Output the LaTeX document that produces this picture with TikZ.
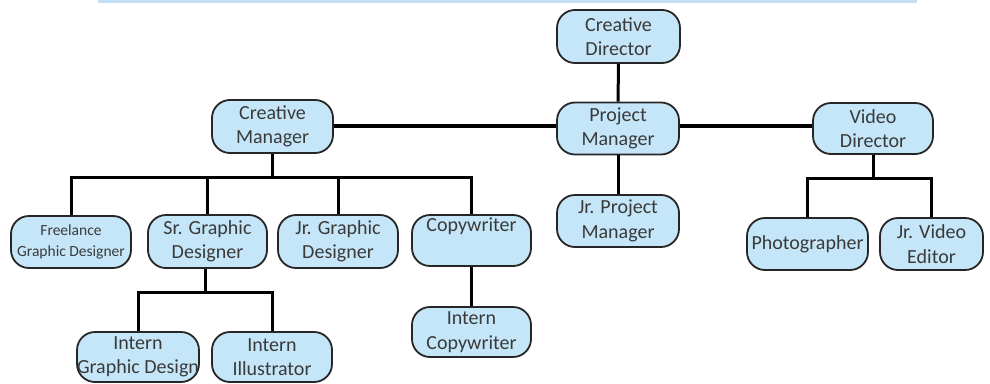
\documentclass[tikz,border=0pt]{standalone}
\usepackage{fontspec}
\setmainfont{Carlito}
\definecolor{boxfill}{HTML}{C5E6F8}
\definecolor{boxtext}{HTML}{3A3A3A}
\definecolor{topline}{HTML}{C2DFF5}
\begin{document}
\begin{tikzpicture}[x=1pt,y=-1pt,
  role/.style={draw=black!85, line width=1.8pt, fill=boxfill, rounded corners=18pt,
    text=boxtext, align=center, inner sep=0pt,
    font=\fontsize{20}{24.5}\selectfont},
  link/.style={line width=3pt, black},
  mainlink/.style={line width=4pt, black}]
\useasboundingbox (0,0) rectangle (990,383);
\fill[topline] (98,0) rectangle (917,2.5);
% nodes
\node[role, minimum width=123pt, minimum height=53pt] (cd) at (618.5,36.5) {Creative\\Director};
\node[role, minimum width=122pt, minimum height=52pt] (pm) at (618,128.5) {Project\\Manager};
\node[role, minimum width=121pt, minimum height=53pt] (cm) at (272.5,126.5) {Creative\\Manager};
\node[role, minimum width=120pt, minimum height=51pt] (vd) at (873,128.5) {Video\\Director};
\node[role, minimum width=122pt, minimum height=52pt] (jpm) at (618,221) {Jr. Project\\Manager};
\node[role, minimum width=120pt, minimum height=52pt, font=\fontsize{15.5}{21}\selectfont] (fl) at (71,242) {Freelance\\Graphic Designer};
\node[role, minimum width=119pt, minimum height=53pt] (sg) at (207.5,241.5) {Sr. Graphic\\Designer};
\node[role, minimum width=120pt, minimum height=53pt] (jg) at (338,241.5) {Jr. Graphic\\Designer};
\node[role, minimum width=119pt, minimum height=51pt] (cw) at (471.5,240.5) {Copywriter\\\strut};
\node[role, minimum width=119pt, minimum height=50pt] (ic) at (471.5,332) {Intern\\Copywriter};
\node[role, minimum width=118pt, minimum height=50pt] (igd) at (138,357) {Intern\\Graphic Design};
\node[role, minimum width=120pt, minimum height=50pt] (ii) at (272,357) {Intern\\Illustrator};
\node[role, minimum width=121pt, minimum height=52pt] (ph) at (807.5,244) {Photographer};
\node[role, minimum width=103pt, minimum height=52pt] (jve) at (931.5,244) {Jr. Video\\Editor};
% junctions
\coordinate (mainy) at (0,126);
\coordinate (cmj) at (272.5,177);
\coordinate (sgj) at (205,292);
\coordinate (vdj) at (873,178);
% connectors
\draw[link] (cd) -- (pm);
\draw[mainlink] (cm.east |- mainy) -- (pm.west |- mainy);
\draw[mainlink] (pm.east |- mainy) -- (vd.west |- mainy);
\draw[link] (pm) -- (jpm);
\draw[link] (cm) -- (cmj);
\draw[link] (fl.north) |- (cmj) -| (cw.north);
\draw[link] (sg.north) -- (sg.north |- cmj);
\draw[link] (jg.north) -- (jg.north |- cmj);
\draw[link] (cw) -- (ic);
\draw[link] (sg.south -| sgj) -- (sgj);
\draw[link] (igd.north) |- (sgj) -| (ii.north);
\draw[link] (vd) -- (vdj);
\draw[link] (ph.north) |- (vdj) -| (jve.north);
\end{tikzpicture}
\end{document}
